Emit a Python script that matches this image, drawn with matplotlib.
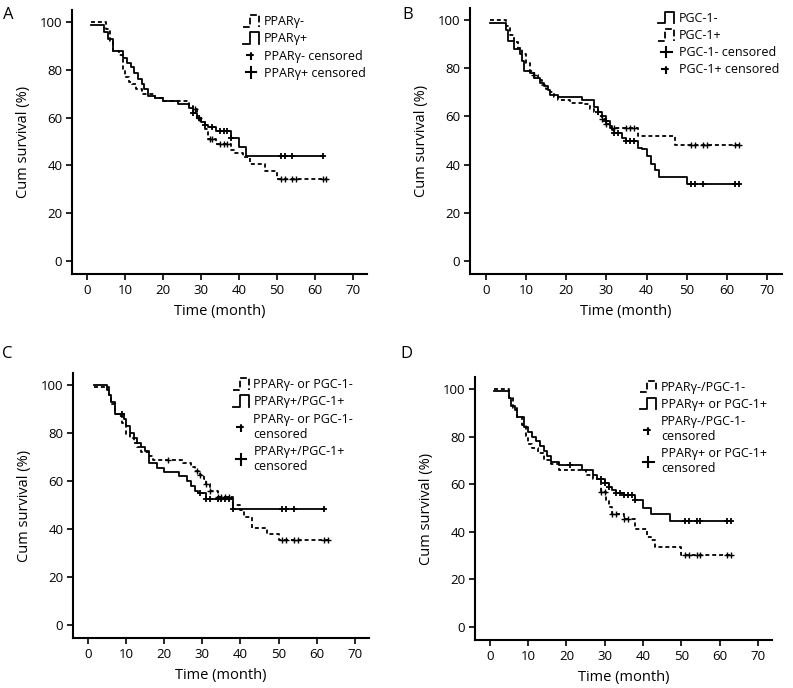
import numpy as np
import matplotlib
matplotlib.use('Agg')
import matplotlib.pyplot as plt
from matplotlib.lines import Line2D
from matplotlib.legend_handler import HandlerBase

plt.rcParams['font.family'] = ['Open Sans', 'DejaVu Sans']

# ---- data (time in months, survival in %) ----
# panel A
a_neg_t = [1, 5, 6, 7, 8.5, 9.5, 10, 11, 12, 13, 14.5, 18, 20, 27, 28, 29, 30, 31, 32, 34, 38, 39, 41, 43, 47, 50, 63]
a_neg_s = [100, 97, 92, 88, 86, 80.3, 76.8, 75, 74, 72, 70, 68, 67, 65, 63.5, 60, 58, 55.3, 51, 48.8, 46.5, 45, 43.5, 40.4, 37.5, 34.5, 34.5]
a_neg_c = [28.5, 29.5, 32.5, 33, 35, 36, 37, 51, 52, 54, 55, 62, 63]
a_pos_t = [1, 4.5, 5.5, 7, 9.5, 10.5, 11.5, 12.5, 13.5, 14.5, 15, 16, 18, 20, 24, 27, 28, 29, 30, 31, 32, 34, 38, 40, 42, 62]
a_pos_s = [98.8, 96, 93, 88, 85, 83, 81, 78.5, 76, 74, 72, 69, 68, 67, 65.5, 64, 62, 60, 58, 57, 56, 54.5, 51.3, 47.8, 44, 44]
a_pos_c = [28, 29.5, 31, 33, 35, 36, 37, 38, 51, 52, 54, 62]

# panel B
b_neg_t = [1, 5, 5.5, 7, 8.5, 9, 9.5, 11, 12, 13.5, 14.5, 15.5, 16, 18, 24, 27, 28, 29, 30, 31, 31.5, 32, 34, 35, 38, 39, 40, 41, 42, 43, 50, 63]
b_neg_s = [98.8, 96, 91.5, 88, 86, 83, 79, 78, 76, 74, 72.5, 71, 69, 68, 66.8, 64, 62, 60, 58, 56, 54.5, 53, 51, 49.6, 47, 46.3, 43.5, 40.4, 37.6, 35, 32, 32]
b_neg_c = [28, 30, 32, 33, 35, 36, 37, 51, 52, 54, 62, 63]
b_pos_t = [1, 5, 6, 7, 8, 9, 10, 11, 12, 13, 14, 15, 16, 17, 18, 21, 24, 26, 27, 28, 29, 30, 31, 38, 47, 63]
b_pos_s = [100, 97.5, 94, 91, 88.5, 86, 82, 79, 77, 75, 73, 71.5, 70, 68, 67, 65.7, 65, 63, 62, 60, 59, 57, 55.4, 52, 48.3, 48.3]
b_pos_c = [12, 29, 30, 32, 35, 36, 37, 51, 52, 54, 55, 62, 63]

# panel C
c_neg_t = [1.5, 5.5, 6, 7, 8, 9, 10, 11, 12, 13, 14, 16, 17, 25, 27, 28, 29.5, 30.5, 31, 32, 34, 38, 40, 41, 43, 47, 50, 63]
c_neg_s = [99, 96, 92, 88, 87, 84, 79.5, 78, 76, 74, 72, 70.3, 68.7, 67.7, 66, 64, 62.5, 61, 58.9, 55.7, 53.2, 50, 47.8, 45, 40.4, 38, 35.5, 35.5]
c_neg_c = [21, 28.5, 29.5, 31, 32, 34, 35, 36, 37, 51, 52, 54, 55, 62, 63]
c_pos_t = [1.5, 5, 5.5, 6, 7, 9.5, 10, 11, 12, 13, 14, 15, 16, 18, 20, 24, 26, 27, 28, 29, 31, 38, 62]
c_pos_s = [100, 98, 96, 93, 88, 86, 83, 80, 78, 76, 74, 72.5, 67.5, 65.5, 63.8, 62.1, 60, 58, 56, 55, 52.6, 48.5, 48.5]
c_pos_c = [9, 29.5, 31, 32, 34, 35, 36, 37, 38, 51, 52, 54, 62]

# panel D
d_neg_t = [1, 5, 6, 7, 8.5, 9.5, 10, 11, 12.5, 14, 16, 18, 25, 27, 29, 30.4, 31, 32, 35, 38, 41, 42, 43, 50, 63]
d_neg_s = [100, 96, 92, 88, 85, 80.2, 76.7, 75, 73, 70.3, 68.5, 65.8, 63.7, 62, 56.8, 53.3, 50.5, 47.7, 45.2, 41.4, 37.7, 36.5, 33.5, 30.3, 30.3]
d_neg_c = [29, 30, 32, 33, 35, 36, 51, 52, 54, 55, 62, 63]
d_pos_t = [1, 5, 5.5, 6.5, 7, 9, 10, 11, 12, 13, 14, 15, 16, 18, 24, 27, 28, 30, 31, 32, 33, 35, 38, 40, 42, 47, 63]
d_pos_s = [99.3, 96, 93, 91, 88, 84, 82, 80, 78, 76, 74, 72, 69.3, 67.9, 66.1, 64, 62, 60.5, 58.7, 57.5, 56.1, 55.5, 53.3, 50.2, 47.4, 44.6, 44.6]
d_pos_c = [21, 29, 30, 31, 33, 34, 35, 36, 37, 38, 51, 52, 54, 55, 62, 63]

xticks = [0, 10, 20, 30, 40, 50, 60, 70]
yticks = [0, 20, 40, 60, 80, 100]

DASH = (0, (2.2, 1.6))
LW = 1.3


class StepHandler(HandlerBase):
    """little step glyph like the SPSS legend"""
    def create_artists(self, legend, orig_handle, xdescent, ydescent, width, height, fontsize, trans):
        x0, y0 = -xdescent, -ydescent - 1
        x1, y1 = x0 + width, y0 + height + 2
        xm = x0 + 0.45 * width
        ln = Line2D([x0, xm, xm, x1, x1], [y0, y0, y1, y1, y0],
                    color='black', lw=orig_handle.get_linewidth(),
                    linestyle=orig_handle.get_linestyle(), transform=trans)
        return [ln]


class CrossHandler(HandlerBase):
    """plus sign for censored; dashed version broken up"""
    def create_artists(self, legend, orig_handle, xdescent, ydescent, width, height, fontsize, trans):
        cx = -xdescent + 0.5 * width
        cy = -ydescent + 0.5 * height
        r = 0.6 * height
        ls = orig_handle.get_linestyle()
        h = Line2D([cx - r, cx + r], [cy, cy], color='black', lw=1.5, linestyle=ls, transform=trans)
        v = Line2D([cx, cx], [cy - r, cy + r], color='black', lw=1.5, linestyle=ls, transform=trans)
        return [h, v]


class StepProxy(Line2D):
    pass


class CrossProxy(Line2D):
    pass


def surv_at(t, s, tc):
    idx = np.searchsorted(np.asarray(t), np.asarray(tc), side='right') - 1
    idx = np.clip(idx, 0, len(s) - 1)
    return np.asarray(s)[idx]


def km_panel(ax, curves, leg_anchor):
    step_h, cens_h, step_l, cens_l = [], [], [], []
    for t, s, tc, dashed, lab, clab in curves:
        ls = DASH if dashed else '-'
        ax.step(t, s, where='post', color='black', lw=LW, linestyle=ls)
        ax.plot(tc, surv_at(t, s, tc), linestyle='none', marker='+',
                color='black', ms=5, mew=1.0 if dashed else 1.3)
        step_h.append(StepProxy([], [], linestyle=DASH if dashed else '-', lw=LW))
        cens_h.append(CrossProxy([], [], linestyle=(0, (2.0, 1.4)) if dashed else '-'))
        step_l.append(lab)
        cens_l.append(clab)

    ax.set_xlim(-3.9, 73.7)
    ax.set_ylim(-5.4, 105)
    ax.set_xticks(xticks)
    ax.set_yticks(yticks)
    for sp in ['top', 'right']:
        ax.spines[sp].set_visible(False)
    for sp in ['left', 'bottom']:
        ax.spines[sp].set_linewidth(1.5)
    ax.tick_params(direction='out', length=4, width=1.2, labelsize=9.5, pad=3)
    ax.set_xlabel('Time (month)', fontsize=10.5, labelpad=5)
    ax.set_ylabel('Cum survival (%)', fontsize=10.5, labelpad=6)

    ax.legend(step_h + cens_h, step_l + cens_l, loc='upper left', bbox_to_anchor=leg_anchor,
              frameon=False, fontsize=9, borderpad=0, borderaxespad=0,
              handlelength=1.3, handletextpad=0.35, labelspacing=0.33,
              handler_map={StepProxy: StepHandler(), CrossProxy: CrossHandler()})


fig = plt.figure(figsize=(7.93, 6.88), dpi=100)
W, H = 793.0, 688.0


def add_ax(left, right, top, bottom):
    return fig.add_axes([left / W, 1 - bottom / H, (right - left) / W, (bottom - top) / H])


axA = add_ax(72, 367, 10, 274)
axB = add_ax(470, 782, 8, 274)
axC = add_ax(73, 369, 373, 638)
axD = add_ax(475, 772, 377, 640)

km_panel(axA, [
    (a_neg_t, a_neg_s, a_neg_c, True, 'PPARγ-', 'PPARγ- censored'),
    (a_pos_t, a_pos_s, a_pos_c, False, 'PPARγ+', 'PPARγ+ censored'),
], (0.58, 0.98))

km_panel(axB, [
    (b_neg_t, b_neg_s, b_neg_c, False, 'PGC-1-', 'PGC-1- censored'),
    (b_pos_t, b_pos_s, b_pos_c, True, 'PGC-1+', 'PGC-1+ censored'),
], (0.603, 0.985))

km_panel(axC, [
    (c_neg_t, c_neg_s, c_neg_c, True, 'PPARγ- or PGC-1-', 'PPARγ- or PGC-1-\ncensored'),
    (c_pos_t, c_pos_s, c_pos_c, False, 'PPARγ+/PGC-1+', 'PPARγ+/PGC-1+\ncensored'),
], (0.54, 0.98))

km_panel(axD, [
    (d_neg_t, d_neg_s, d_neg_c, True, 'PPARγ-/PGC-1-', 'PPARγ-/PGC-1-\ncensored'),
    (d_pos_t, d_pos_s, d_pos_c, False, 'PPARγ+ or PGC-1+', 'PPARγ+ or PGC-1+\ncensored'),
], (0.556, 0.985))

# panel letters
for lab, x, y in [('A', 3, 7), ('B', 402, 7), ('C', 2, 346), ('D', 400, 346)]:
    fig.text(x / W, 1 - y / H, lab, fontsize=12, va='top', ha='left')

plt.savefig('out.png', dpi=100)
